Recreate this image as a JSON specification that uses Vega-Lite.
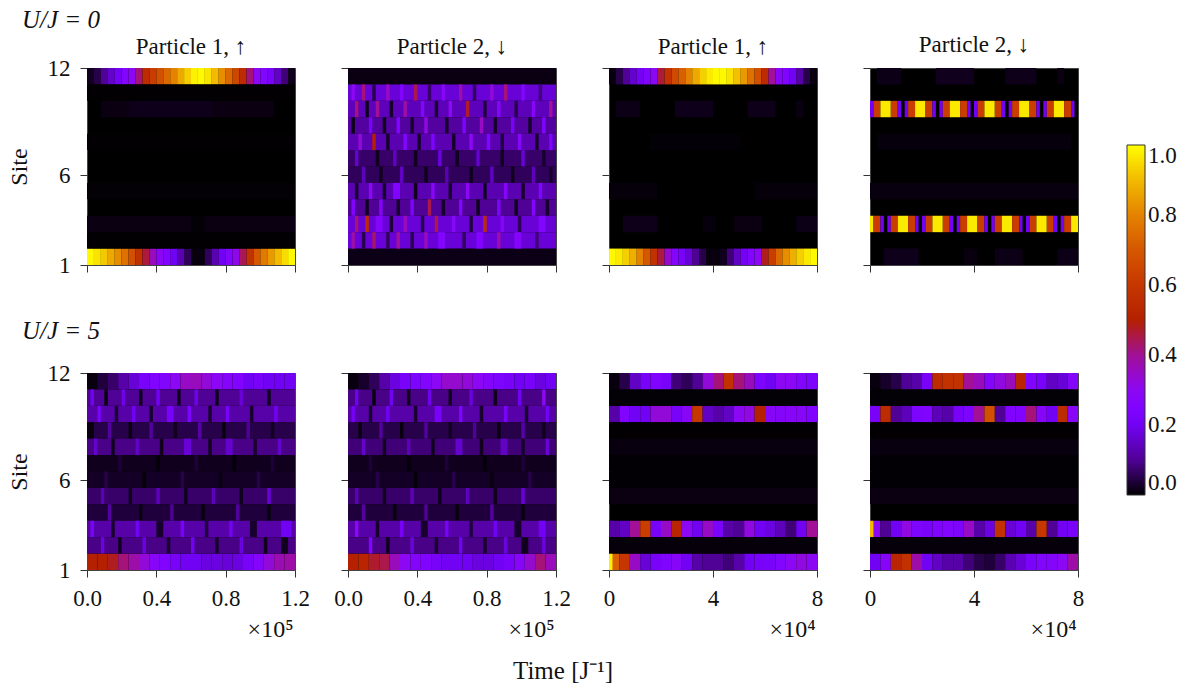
{"$schema":"https://vega.github.io/schema/vega-lite/v6.json","padding":{"left":6,"top":8,"right":0,"bottom":4},"background":"white","title":{"text":"U/J = 0","anchor":"start","frame":"group","fontStyle":"italic","fontSize":25,"offset":0,"dx":-65},"bounds":"flush","data":{"values":[
{"p":1,"i":0,"w":2,"s":12,"v":0.02},{"p":1,"i":2,"w":2,"s":12,"v":0.05},{"p":1,"i":4,"w":2,"s":12,"v":0.1},{"p":1,"i":6,"w":2,"s":12,"v":0.16},{"p":1,"i":8,"w":2,"s":12,"v":0.21},{"p":1,"i":10,"w":2,"s":12,"v":0.26},{"p":1,"i":12,"w":2,"s":12,"v":0.3},{"p":1,"i":14,"w":2,"s":12,"v":0.42},{"p":1,"i":16,"w":2,"s":12,"v":0.55},{"p":1,"i":18,"w":2,"s":12,"v":0.62},{"p":1,"i":20,"w":2,"s":12,"v":0.68},{"p":1,"i":22,"w":2,"s":12,"v":0.74},{"p":1,"i":24,"w":2,"s":12,"v":0.8},{"p":1,"i":26,"w":2,"s":12,"v":0.87},{"p":1,"i":28,"w":2,"s":12,"v":0.93},{"p":1,"i":30,"w":2,"s":12,"v":0.98},{"p":1,"i":32,"w":2,"s":12,"v":0.99},{"p":1,"i":34,"w":2,"s":12,"v":0.96},{"p":1,"i":36,"w":2,"s":12,"v":0.9},{"p":1,"i":38,"w":2,"s":12,"v":0.82},{"p":1,"i":40,"w":2,"s":12,"v":0.74},{"p":1,"i":42,"w":2,"s":12,"v":0.65},{"p":1,"i":44,"w":2,"s":12,"v":0.55},{"p":1,"i":46,"w":2,"s":12,"v":0.42},{"p":1,"i":48,"w":2,"s":12,"v":0.3},{"p":1,"i":50,"w":2,"s":12,"v":0.26},{"p":1,"i":52,"w":2,"s":12,"v":0.22},{"p":1,"i":54,"w":2,"s":12,"v":0.15},{"p":1,"i":56,"w":2,"s":12,"v":0.08},{"p":1,"i":58,"w":2,"s":12,"v":0.02},
{"p":1,"i":0,"w":2,"s":1,"v":0.99},{"p":1,"i":2,"w":2,"s":1,"v":0.96},{"p":1,"i":4,"w":2,"s":1,"v":0.92},{"p":1,"i":6,"w":2,"s":1,"v":0.87},{"p":1,"i":8,"w":2,"s":1,"v":0.82},{"p":1,"i":10,"w":2,"s":1,"v":0.76},{"p":1,"i":12,"w":2,"s":1,"v":0.68},{"p":1,"i":14,"w":2,"s":1,"v":0.58},{"p":1,"i":16,"w":2,"s":1,"v":0.46},{"p":1,"i":18,"w":2,"s":1,"v":0.36},{"p":1,"i":20,"w":2,"s":1,"v":0.29},{"p":1,"i":22,"w":2,"s":1,"v":0.25},{"p":1,"i":24,"w":2,"s":1,"v":0.2},{"p":1,"i":26,"w":2,"s":1,"v":0.13},{"p":1,"i":28,"w":2,"s":1,"v":0.06},{"p":1,"i":30,"w":2,"s":1,"v":0.01},{"p":1,"i":32,"w":2,"s":1,"v":0.01},{"p":1,"i":34,"w":2,"s":1,"v":0.06},{"p":1,"i":36,"w":2,"s":1,"v":0.13},{"p":1,"i":38,"w":2,"s":1,"v":0.2},{"p":1,"i":40,"w":2,"s":1,"v":0.26},{"p":1,"i":42,"w":2,"s":1,"v":0.31},{"p":1,"i":44,"w":2,"s":1,"v":0.44},{"p":1,"i":46,"w":2,"s":1,"v":0.58},{"p":1,"i":48,"w":2,"s":1,"v":0.7},{"p":1,"i":50,"w":2,"s":1,"v":0.78},{"p":1,"i":52,"w":2,"s":1,"v":0.84},{"p":1,"i":54,"w":2,"s":1,"v":0.9},{"p":1,"i":56,"w":2,"s":1,"v":0.95},{"p":1,"i":58,"w":2,"s":1,"v":0.99},
{"p":1,"i":4,"w":50,"s":10,"v":0.012},{"p":1,"i":12,"w":24,"s":10,"v":0.018},{"p":1,"i":0,"w":60,"s":3,"v":0.012},{"p":1,"i":30,"w":4,"s":3,"v":0.004},{"p":1,"i":0,"w":60,"s":11,"v":0.002},{"p":1,"i":0,"w":60,"s":8,"v":0.002},{"p":1,"i":0,"w":60,"s":5,"v":0.004},{"p":1,"i":0,"w":60,"s":2,"v":0.002},
{"p":2,"i":0,"w":60,"s":12,"v":0.012},{"p":2,"i":0,"w":60,"s":1,"v":0.014},
{"p":2,"i":0,"w":60,"s":11,"v":0.17},{"p":2,"i":1,"s":11,"v":0.3},{"p":2,"i":4,"s":11,"v":0.42},{"p":2,"i":7,"s":11,"v":0.05},{"p":2,"i":11,"s":11,"v":0.35},{"p":2,"i":15,"s":11,"v":0.25},{"p":2,"i":19,"s":11,"v":0.45},{"p":2,"i":23,"s":11,"v":0.07},{"p":2,"i":27,"s":11,"v":0.28},{"p":2,"i":32,"s":11,"v":0.38},{"p":2,"i":36,"s":11,"v":0.06},{"p":2,"i":41,"s":11,"v":0.33},{"p":2,"i":45,"s":11,"v":0.42},{"p":2,"i":50,"s":11,"v":0.26},{"p":2,"i":55,"s":11,"v":0.08},
{"p":2,"i":0,"w":60,"s":10,"v":0.14},{"p":2,"i":2,"s":10,"v":0.42},{"p":2,"i":5,"s":10,"v":0.02},{"p":2,"i":8,"s":10,"v":0.4},{"p":2,"i":12,"s":10,"v":0.03},{"p":2,"i":16,"s":10,"v":0.38},{"p":2,"i":21,"s":10,"v":0.26},{"p":2,"i":25,"s":10,"v":0.03},{"p":2,"i":29,"s":10,"v":0.3},{"p":2,"i":34,"s":10,"v":0.47},{"p":2,"i":39,"s":10,"v":0.04},{"p":2,"i":43,"s":10,"v":0.27},{"p":2,"i":48,"s":10,"v":0.05},{"p":2,"i":53,"s":10,"v":0.28},{"p":2,"i":58,"s":10,"v":0.4},
{"p":2,"i":0,"w":60,"s":9,"v":0.11},{"p":2,"i":1,"s":9,"v":0.02},{"p":2,"i":6,"s":9,"v":0.22},{"p":2,"i":10,"s":9,"v":0.02},{"p":2,"i":14,"s":9,"v":0.25},{"p":2,"i":18,"s":9,"v":0.03},{"p":2,"i":22,"s":9,"v":0.32},{"p":2,"i":28,"s":9,"v":0.03},{"p":2,"i":33,"s":9,"v":0.24},{"p":2,"i":38,"s":9,"v":0.35},{"p":2,"i":42,"s":9,"v":0.03},{"p":2,"i":47,"s":9,"v":0.22},{"p":2,"i":52,"s":9,"v":0.03},{"p":2,"i":56,"s":9,"v":0.25},
{"p":2,"i":0,"w":60,"s":8,"v":0.13},{"p":2,"i":3,"s":8,"v":0.33},{"p":2,"i":7,"s":8,"v":0.5},{"p":2,"i":11,"s":8,"v":0.03},{"p":2,"i":16,"s":8,"v":0.26},{"p":2,"i":20,"s":8,"v":0.03},{"p":2,"i":24,"s":8,"v":0.24},{"p":2,"i":30,"s":8,"v":0.03},{"p":2,"i":35,"s":8,"v":0.3},{"p":2,"i":40,"s":8,"v":0.25},{"p":2,"i":44,"s":8,"v":0.04},{"p":2,"i":49,"s":8,"v":0.28},{"p":2,"i":54,"s":8,"v":0.03},{"p":2,"i":58,"s":8,"v":0.24},
{"p":2,"i":0,"w":60,"s":7,"v":0.07},{"p":2,"i":2,"s":7,"v":0.16},{"p":2,"i":8,"s":7,"v":0.02},{"p":2,"i":13,"s":7,"v":0.15},{"p":2,"i":19,"s":7,"v":0.02},{"p":2,"i":26,"s":7,"v":0.18},{"p":2,"i":31,"s":7,"v":0.02},{"p":2,"i":37,"s":7,"v":0.16},{"p":2,"i":44,"s":7,"v":0.02},{"p":2,"i":50,"s":7,"v":0.17},{"p":2,"i":56,"s":7,"v":0.03},
{"p":2,"i":0,"w":60,"s":6,"v":0.06},{"p":2,"i":4,"s":6,"v":0.14},{"p":2,"i":9,"s":6,"v":0.02},{"p":2,"i":15,"s":6,"v":0.15},{"p":2,"i":22,"s":6,"v":0.02},{"p":2,"i":28,"s":6,"v":0.13},{"p":2,"i":35,"s":6,"v":0.02},{"p":2,"i":41,"s":6,"v":0.15},{"p":2,"i":47,"s":6,"v":0.02},{"p":2,"i":53,"s":6,"v":0.14},{"p":2,"i":58,"s":6,"v":0.03},
{"p":2,"i":0,"w":60,"s":5,"v":0.13},{"p":2,"i":2,"s":5,"v":0.03},{"p":2,"i":6,"s":5,"v":0.3},{"p":2,"i":10,"s":5,"v":0.03},{"p":2,"i":13,"w":2,"s":5,"v":0.25},{"p":2,"i":19,"s":5,"v":0.02},{"p":2,"i":24,"s":5,"v":0.28},{"p":2,"i":29,"s":5,"v":0.03},{"p":2,"i":34,"s":5,"v":0.3},{"p":2,"i":39,"s":5,"v":0.02},{"p":2,"i":45,"s":5,"v":0.27},{"p":2,"i":50,"s":5,"v":0.03},{"p":2,"i":55,"s":5,"v":0.25},
{"p":2,"i":0,"w":60,"s":4,"v":0.1},{"p":2,"i":1,"s":4,"v":0.25},{"p":2,"i":5,"s":4,"v":0.02},{"p":2,"i":9,"s":4,"v":0.27},{"p":2,"i":14,"s":4,"v":0.03},{"p":2,"i":18,"s":4,"v":0.24},{"p":2,"i":23,"s":4,"v":0.45},{"p":2,"i":27,"s":4,"v":0.03},{"p":2,"i":32,"s":4,"v":0.26},{"p":2,"i":37,"s":4,"v":0.02},{"p":2,"i":43,"s":4,"v":0.24},{"p":2,"i":48,"s":4,"v":0.02},{"p":2,"i":53,"s":4,"v":0.26},{"p":2,"i":57,"s":4,"v":0.03},
{"p":2,"i":0,"w":60,"s":3,"v":0.17},{"p":2,"i":2,"s":3,"v":0.42},{"p":2,"i":5,"s":3,"v":0.55},{"p":2,"i":8,"w":2,"s":3,"v":0.27},{"p":2,"i":12,"s":3,"v":0.04},{"p":2,"i":16,"s":3,"v":0.36},{"p":2,"i":21,"s":3,"v":0.05},{"p":2,"i":25,"s":3,"v":0.45},{"p":2,"i":30,"s":3,"v":0.28},{"p":2,"i":35,"s":3,"v":0.04},{"p":2,"i":39,"s":3,"v":0.55},{"p":2,"i":44,"s":3,"v":0.27},{"p":2,"i":49,"s":3,"v":0.06},{"p":2,"i":55,"w":2,"s":3,"v":0.26},
{"p":2,"i":0,"w":60,"s":2,"v":0.17},{"p":2,"i":1,"s":2,"v":0.38},{"p":2,"i":4,"s":2,"v":0.05},{"p":2,"i":7,"s":2,"v":0.43},{"p":2,"i":11,"s":2,"v":0.06},{"p":2,"i":14,"s":2,"v":0.4},{"p":2,"i":18,"s":2,"v":0.05},{"p":2,"i":22,"s":2,"v":0.36},{"p":2,"i":26,"w":2,"s":2,"v":0.26},{"p":2,"i":33,"s":2,"v":0.06},{"p":2,"i":37,"w":2,"s":2,"v":0.25},{"p":2,"i":43,"s":2,"v":0.38},{"p":2,"i":48,"w":2,"s":2,"v":0.27},{"p":2,"i":54,"s":2,"v":0.08},
{"p":3,"i":0,"w":2,"s":12,"v":0.01},{"p":3,"i":2,"w":2,"s":12,"v":0.05},{"p":3,"i":4,"w":2,"s":12,"v":0.1},{"p":3,"i":6,"w":2,"s":12,"v":0.16},{"p":3,"i":8,"w":2,"s":12,"v":0.21},{"p":3,"i":10,"w":2,"s":12,"v":0.25},{"p":3,"i":12,"w":2,"s":12,"v":0.3},{"p":3,"i":14,"w":2,"s":12,"v":0.46},{"p":3,"i":16,"w":2,"s":12,"v":0.58},{"p":3,"i":18,"w":2,"s":12,"v":0.66},{"p":3,"i":20,"w":2,"s":12,"v":0.72},{"p":3,"i":22,"w":2,"s":12,"v":0.8},{"p":3,"i":24,"w":2,"s":12,"v":0.87},{"p":3,"i":26,"w":2,"s":12,"v":0.93},{"p":3,"i":28,"w":2,"s":12,"v":0.97},{"p":3,"i":30,"w":2,"s":12,"v":0.99},{"p":3,"i":32,"w":2,"s":12,"v":0.99},{"p":3,"i":34,"w":2,"s":12,"v":0.96},{"p":3,"i":36,"w":2,"s":12,"v":0.91},{"p":3,"i":38,"w":2,"s":12,"v":0.84},{"p":3,"i":40,"w":2,"s":12,"v":0.76},{"p":3,"i":42,"w":2,"s":12,"v":0.68},{"p":3,"i":44,"w":2,"s":12,"v":0.55},{"p":3,"i":46,"w":2,"s":12,"v":0.4},{"p":3,"i":48,"w":2,"s":12,"v":0.28},{"p":3,"i":50,"w":2,"s":12,"v":0.25},{"p":3,"i":52,"w":2,"s":12,"v":0.2},{"p":3,"i":54,"w":2,"s":12,"v":0.12},{"p":3,"i":56,"w":2,"s":12,"v":0.05},{"p":3,"i":58,"w":2,"s":12,"v":0.01},
{"p":3,"i":0,"w":2,"s":1,"v":0.99},{"p":3,"i":2,"w":2,"s":1,"v":0.97},{"p":3,"i":4,"w":2,"s":1,"v":0.93},{"p":3,"i":6,"w":2,"s":1,"v":0.88},{"p":3,"i":8,"w":2,"s":1,"v":0.8},{"p":3,"i":10,"w":2,"s":1,"v":0.7},{"p":3,"i":12,"w":2,"s":1,"v":0.58},{"p":3,"i":14,"w":2,"s":1,"v":0.46},{"p":3,"i":16,"w":2,"s":1,"v":0.34},{"p":3,"i":18,"w":2,"s":1,"v":0.27},{"p":3,"i":20,"w":2,"s":1,"v":0.22},{"p":3,"i":22,"w":2,"s":1,"v":0.17},{"p":3,"i":24,"w":2,"s":1,"v":0.1},{"p":3,"i":26,"w":2,"s":1,"v":0.05},{"p":3,"i":28,"w":2,"s":1,"v":0.01},{"p":3,"i":30,"w":2,"s":1,"v":0.01},{"p":3,"i":32,"w":2,"s":1,"v":0.02},{"p":3,"i":34,"w":2,"s":1,"v":0.08},{"p":3,"i":36,"w":2,"s":1,"v":0.15},{"p":3,"i":38,"w":2,"s":1,"v":0.21},{"p":3,"i":40,"w":2,"s":1,"v":0.26},{"p":3,"i":42,"w":2,"s":1,"v":0.3},{"p":3,"i":44,"w":2,"s":1,"v":0.48},{"p":3,"i":46,"w":2,"s":1,"v":0.62},{"p":3,"i":48,"w":2,"s":1,"v":0.74},{"p":3,"i":50,"w":2,"s":1,"v":0.82},{"p":3,"i":52,"w":2,"s":1,"v":0.88},{"p":3,"i":54,"w":2,"s":1,"v":0.93},{"p":3,"i":56,"w":2,"s":1,"v":0.97},{"p":3,"i":58,"w":2,"s":1,"v":0.99},
{"p":3,"i":2,"w":7,"s":10,"v":0.015},{"p":3,"i":19,"w":11,"s":10,"v":0.018},{"p":3,"i":40,"w":8,"s":10,"v":0.016},{"p":3,"i":54,"w":2,"s":10,"v":0.012},{"p":3,"i":4,"w":10,"s":3,"v":0.016},{"p":3,"i":27,"w":4,"s":3,"v":0.008},{"p":3,"i":36,"w":8,"s":3,"v":0.012},{"p":3,"i":54,"w":6,"s":3,"v":0.014},{"p":3,"i":12,"w":26,"s":8,"v":0.005},{"p":3,"i":0,"w":14,"s":5,"v":0.006},{"p":3,"i":42,"w":18,"s":5,"v":0.006},
{"p":4,"i":0,"s":10,"v":0.2},{"p":4,"i":1,"w":2,"s":10,"v":0.62},{"p":4,"i":3,"w":3,"s":10,"v":0.97},{"p":4,"i":6,"w":2,"s":10,"v":0.62},{"p":4,"i":8,"s":10,"v":0.2},{"p":4,"i":10,"s":10,"v":0.2},{"p":4,"i":11,"w":2,"s":10,"v":0.62},{"p":4,"i":13,"w":3,"s":10,"v":0.97},{"p":4,"i":16,"w":2,"s":10,"v":0.62},{"p":4,"i":18,"s":10,"v":0.2},{"p":4,"i":20,"s":10,"v":0.2},{"p":4,"i":21,"w":2,"s":10,"v":0.62},{"p":4,"i":23,"w":3,"s":10,"v":0.97},{"p":4,"i":26,"w":2,"s":10,"v":0.62},{"p":4,"i":28,"s":10,"v":0.2},{"p":4,"i":30,"s":10,"v":0.2},{"p":4,"i":31,"w":2,"s":10,"v":0.62},{"p":4,"i":33,"w":3,"s":10,"v":0.97},{"p":4,"i":36,"w":2,"s":10,"v":0.62},{"p":4,"i":38,"s":10,"v":0.2},{"p":4,"i":40,"s":10,"v":0.2},{"p":4,"i":41,"w":2,"s":10,"v":0.62},{"p":4,"i":43,"w":3,"s":10,"v":0.97},{"p":4,"i":46,"w":2,"s":10,"v":0.62},{"p":4,"i":48,"s":10,"v":0.2},{"p":4,"i":50,"s":10,"v":0.2},{"p":4,"i":51,"w":2,"s":10,"v":0.62},{"p":4,"i":53,"w":3,"s":10,"v":0.97},{"p":4,"i":56,"w":2,"s":10,"v":0.62},{"p":4,"i":58,"s":10,"v":0.2},
{"p":4,"i":0,"s":3,"v":0.97},{"p":4,"i":1,"w":2,"s":3,"v":0.62},{"p":4,"i":3,"s":3,"v":0.2},{"p":4,"i":5,"s":3,"v":0.2},{"p":4,"i":6,"w":2,"s":3,"v":0.62},{"p":4,"i":8,"w":3,"s":3,"v":0.97},{"p":4,"i":11,"w":2,"s":3,"v":0.62},{"p":4,"i":13,"s":3,"v":0.2},{"p":4,"i":15,"s":3,"v":0.2},{"p":4,"i":16,"w":2,"s":3,"v":0.62},{"p":4,"i":18,"w":3,"s":3,"v":0.97},{"p":4,"i":21,"w":2,"s":3,"v":0.62},{"p":4,"i":23,"s":3,"v":0.2},{"p":4,"i":25,"s":3,"v":0.2},{"p":4,"i":26,"w":2,"s":3,"v":0.62},{"p":4,"i":28,"w":3,"s":3,"v":0.97},{"p":4,"i":31,"w":2,"s":3,"v":0.62},{"p":4,"i":33,"s":3,"v":0.2},{"p":4,"i":35,"s":3,"v":0.2},{"p":4,"i":36,"w":2,"s":3,"v":0.62},{"p":4,"i":38,"w":3,"s":3,"v":0.97},{"p":4,"i":41,"w":2,"s":3,"v":0.62},{"p":4,"i":43,"s":3,"v":0.2},{"p":4,"i":45,"s":3,"v":0.2},{"p":4,"i":46,"w":2,"s":3,"v":0.62},{"p":4,"i":48,"w":3,"s":3,"v":0.97},{"p":4,"i":51,"w":2,"s":3,"v":0.62},{"p":4,"i":53,"s":3,"v":0.2},{"p":4,"i":55,"s":3,"v":0.2},{"p":4,"i":56,"w":2,"s":3,"v":0.62},{"p":4,"i":58,"w":2,"s":3,"v":0.97},
{"p":4,"i":2,"w":7,"s":12,"v":0.015},{"p":4,"i":19,"w":11,"s":12,"v":0.02},{"p":4,"i":39,"w":9,"s":12,"v":0.016},{"p":4,"i":54,"w":2,"s":12,"v":0.012},{"p":4,"i":4,"w":10,"s":1,"v":0.018},{"p":4,"i":27,"w":4,"s":1,"v":0.01},{"p":4,"i":36,"w":8,"s":1,"v":0.014},{"p":4,"i":54,"w":6,"s":1,"v":0.014},{"p":4,"i":2,"w":56,"s":8,"v":0.008},{"p":4,"i":0,"w":60,"s":5,"v":0.01},
{"p":5,"i":0,"w":3,"s":12,"v":0.01},{"p":5,"i":3,"w":3,"s":12,"v":0.04},{"p":5,"i":6,"w":3,"s":12,"v":0.07},{"p":5,"i":9,"w":3,"s":12,"v":0.12},{"p":5,"i":12,"w":3,"s":12,"v":0.17},{"p":5,"i":15,"w":3,"s":12,"v":0.22},{"p":5,"i":18,"w":3,"s":12,"v":0.25},{"p":5,"i":21,"w":3,"s":12,"v":0.26},{"p":5,"i":24,"w":3,"s":12,"v":0.3},{"p":5,"i":27,"w":3,"s":12,"v":0.35},{"p":5,"i":30,"w":3,"s":12,"v":0.36},{"p":5,"i":33,"w":3,"s":12,"v":0.33},{"p":5,"i":36,"w":3,"s":12,"v":0.3},{"p":5,"i":39,"w":3,"s":12,"v":0.27},{"p":5,"i":42,"w":3,"s":12,"v":0.25},{"p":5,"i":45,"w":3,"s":12,"v":0.2},{"p":5,"i":48,"w":3,"s":12,"v":0.22},{"p":5,"i":51,"w":3,"s":12,"v":0.2},{"p":5,"i":54,"w":3,"s":12,"v":0.2},{"p":5,"i":57,"w":3,"s":12,"v":0.2},
{"p":5,"i":0,"w":3,"s":1,"v":0.5},{"p":5,"i":3,"w":3,"s":1,"v":0.5},{"p":5,"i":6,"w":3,"s":1,"v":0.48},{"p":5,"i":9,"w":3,"s":1,"v":0.42},{"p":5,"i":12,"w":3,"s":1,"v":0.38},{"p":5,"i":15,"w":3,"s":1,"v":0.33},{"p":5,"i":18,"w":3,"s":1,"v":0.28},{"p":5,"i":21,"w":3,"s":1,"v":0.25},{"p":5,"i":24,"w":3,"s":1,"v":0.22},{"p":5,"i":27,"w":3,"s":1,"v":0.2},{"p":5,"i":30,"w":3,"s":1,"v":0.2},{"p":5,"i":33,"w":3,"s":1,"v":0.18},{"p":5,"i":36,"w":3,"s":1,"v":0.18},{"p":5,"i":39,"w":3,"s":1,"v":0.17},{"p":5,"i":42,"w":3,"s":1,"v":0.18},{"p":5,"i":45,"w":3,"s":1,"v":0.22},{"p":5,"i":48,"w":3,"s":1,"v":0.27},{"p":5,"i":51,"w":3,"s":1,"v":0.33},{"p":5,"i":54,"w":3,"s":1,"v":0.37},{"p":5,"i":57,"w":3,"s":1,"v":0.38},
{"p":5,"i":0,"w":60,"s":11,"v":0.1},{"p":5,"i":1,"s":11,"v":0.2},{"p":5,"i":5,"s":11,"v":0.01},{"p":5,"i":10,"s":11,"v":0.19},{"p":5,"i":15,"s":11,"v":0.02},{"p":5,"i":20,"s":11,"v":0.2},{"p":5,"i":26,"s":11,"v":0.02},{"p":5,"i":31,"s":11,"v":0.19},{"p":5,"i":37,"s":11,"v":0.02},{"p":5,"i":44,"s":11,"v":0.17},{"p":5,"i":52,"s":11,"v":0.02},
{"p":5,"i":0,"w":60,"s":10,"v":0.12},{"p":5,"i":3,"s":10,"v":0.22},{"p":5,"i":8,"s":10,"v":0.03},{"p":5,"i":13,"s":10,"v":0.2},{"p":5,"i":18,"s":10,"v":0.03},{"p":5,"i":23,"w":2,"s":10,"v":0.22},{"p":5,"i":29,"s":10,"v":0.24},{"p":5,"i":35,"s":10,"v":0.03},{"p":5,"i":40,"s":10,"v":0.22},{"p":5,"i":47,"s":10,"v":0.03},{"p":5,"i":54,"s":10,"v":0.2},
{"p":5,"i":0,"w":60,"s":9,"v":0.05},{"p":5,"i":0,"w":2,"s":9,"v":0.01},{"p":5,"i":6,"s":9,"v":0.11},{"p":5,"i":12,"s":9,"v":0.01},{"p":5,"i":18,"s":9,"v":0.11},{"p":5,"i":25,"s":9,"v":0.02},{"p":5,"i":32,"s":9,"v":0.12},{"p":5,"i":39,"s":9,"v":0.01},{"p":5,"i":46,"s":9,"v":0.1},{"p":5,"i":53,"s":9,"v":0.02},
{"p":5,"i":0,"w":60,"s":8,"v":0.09},{"p":5,"i":2,"s":8,"v":0.16},{"p":5,"i":7,"s":8,"v":0.02},{"p":5,"i":14,"s":8,"v":0.15},{"p":5,"i":21,"s":8,"v":0.02},{"p":5,"i":28,"w":2,"s":8,"v":0.17},{"p":5,"i":35,"s":8,"v":0.02},{"p":5,"i":40,"w":2,"s":8,"v":0.16},{"p":5,"i":48,"s":8,"v":0.03},{"p":5,"i":55,"s":8,"v":0.16},
{"p":5,"i":0,"w":60,"s":7,"v":0.02},{"p":5,"i":9,"s":7,"v":0.04},{"p":5,"i":20,"s":7,"v":0.005},{"p":5,"i":31,"s":7,"v":0.04},{"p":5,"i":42,"s":7,"v":0.005},{"p":5,"i":53,"s":7,"v":0.04},
{"p":5,"i":0,"w":60,"s":6,"v":0.025},{"p":5,"i":5,"s":6,"v":0.05},{"p":5,"i":16,"s":6,"v":0.005},{"p":5,"i":27,"s":6,"v":0.05},{"p":5,"i":38,"s":6,"v":0.01},{"p":5,"i":49,"s":6,"v":0.05},
{"p":5,"i":0,"w":60,"s":5,"v":0.07},{"p":5,"i":4,"s":5,"v":0.13},{"p":5,"i":12,"s":5,"v":0.02},{"p":5,"i":20,"s":5,"v":0.14},{"p":5,"i":28,"s":5,"v":0.02},{"p":5,"i":36,"s":5,"v":0.14},{"p":5,"i":44,"s":5,"v":0.02},{"p":5,"i":52,"s":5,"v":0.17},
{"p":5,"i":0,"w":60,"s":4,"v":0.04},{"p":5,"i":6,"s":4,"v":0.11},{"p":5,"i":15,"s":4,"v":0.01},{"p":5,"i":24,"s":4,"v":0.1},{"p":5,"i":33,"s":4,"v":0.01},{"p":5,"i":43,"s":4,"v":0.11},{"p":5,"i":52,"s":4,"v":0.01},
{"p":5,"i":0,"w":60,"s":3,"v":0.12},{"p":5,"i":1,"s":3,"v":0.23},{"p":5,"i":7,"s":3,"v":0.03},{"p":5,"i":14,"s":3,"v":0.2},{"p":5,"i":20,"w":2,"s":3,"v":0.03},{"p":5,"i":27,"s":3,"v":0.22},{"p":5,"i":34,"s":3,"v":0.04},{"p":5,"i":41,"s":3,"v":0.2},{"p":5,"i":47,"w":2,"s":3,"v":0.03},{"p":5,"i":56,"w":3,"s":3,"v":0.2},
{"p":5,"i":0,"w":60,"s":2,"v":0.09},{"p":5,"i":4,"s":2,"v":0.18},{"p":5,"i":9,"s":2,"v":0.02},{"p":5,"i":16,"s":2,"v":0.18},{"p":5,"i":23,"s":2,"v":0.03},{"p":5,"i":30,"s":2,"v":0.2},{"p":5,"i":37,"s":2,"v":0.03},{"p":5,"i":44,"s":2,"v":0.18},{"p":5,"i":51,"s":2,"v":0.02},{"p":5,"i":56,"w":2,"s":2,"v":0.02},
{"p":6,"i":0,"w":3,"s":12,"v":0.01},{"p":6,"i":3,"w":3,"s":12,"v":0.03},{"p":6,"i":6,"w":3,"s":12,"v":0.06},{"p":6,"i":9,"w":3,"s":12,"v":0.12},{"p":6,"i":12,"w":3,"s":12,"v":0.18},{"p":6,"i":15,"w":3,"s":12,"v":0.22},{"p":6,"i":18,"w":3,"s":12,"v":0.24},{"p":6,"i":21,"w":3,"s":12,"v":0.26},{"p":6,"i":24,"w":3,"s":12,"v":0.3},{"p":6,"i":27,"w":3,"s":12,"v":0.34},{"p":6,"i":30,"w":3,"s":12,"v":0.34},{"p":6,"i":33,"w":3,"s":12,"v":0.33},{"p":6,"i":36,"w":3,"s":12,"v":0.3},{"p":6,"i":39,"w":3,"s":12,"v":0.27},{"p":6,"i":42,"w":3,"s":12,"v":0.24},{"p":6,"i":45,"w":3,"s":12,"v":0.22},{"p":6,"i":48,"w":3,"s":12,"v":0.2},{"p":6,"i":51,"w":3,"s":12,"v":0.22},{"p":6,"i":54,"w":3,"s":12,"v":0.18},{"p":6,"i":57,"w":3,"s":12,"v":0.2},
{"p":6,"i":0,"w":3,"s":1,"v":0.5},{"p":6,"i":3,"w":3,"s":1,"v":0.52},{"p":6,"i":6,"w":3,"s":1,"v":0.47},{"p":6,"i":9,"w":3,"s":1,"v":0.45},{"p":6,"i":12,"w":3,"s":1,"v":0.36},{"p":6,"i":15,"w":3,"s":1,"v":0.3},{"p":6,"i":18,"w":3,"s":1,"v":0.27},{"p":6,"i":21,"w":3,"s":1,"v":0.25},{"p":6,"i":24,"w":3,"s":1,"v":0.22},{"p":6,"i":27,"w":3,"s":1,"v":0.2},{"p":6,"i":30,"w":3,"s":1,"v":0.2},{"p":6,"i":33,"w":3,"s":1,"v":0.2},{"p":6,"i":36,"w":3,"s":1,"v":0.18},{"p":6,"i":39,"w":3,"s":1,"v":0.18},{"p":6,"i":42,"w":3,"s":1,"v":0.2},{"p":6,"i":45,"w":3,"s":1,"v":0.22},{"p":6,"i":48,"w":3,"s":1,"v":0.28},{"p":6,"i":51,"w":3,"s":1,"v":0.34},{"p":6,"i":54,"w":3,"s":1,"v":0.42},{"p":6,"i":57,"w":3,"s":1,"v":0.36},
{"p":6,"i":0,"w":60,"s":11,"v":0.09},{"p":6,"i":2,"s":11,"v":0.19},{"p":6,"i":7,"s":11,"v":0.01},{"p":6,"i":12,"s":11,"v":0.2},{"p":6,"i":17,"s":11,"v":0.02},{"p":6,"i":23,"s":11,"v":0.19},{"p":6,"i":29,"s":11,"v":0.02},{"p":6,"i":35,"s":11,"v":0.18},{"p":6,"i":42,"s":11,"v":0.02},{"p":6,"i":49,"s":11,"v":0.2},{"p":6,"i":56,"s":11,"v":0.3},
{"p":6,"i":0,"w":60,"s":10,"v":0.12},{"p":6,"i":1,"s":10,"v":0.21},{"p":6,"i":6,"s":10,"v":0.03},{"p":6,"i":11,"s":10,"v":0.2},{"p":6,"i":19,"s":10,"v":0.03},{"p":6,"i":25,"w":2,"s":10,"v":0.22},{"p":6,"i":32,"s":10,"v":0.24},{"p":6,"i":38,"s":10,"v":0.03},{"p":6,"i":45,"s":10,"v":0.22},{"p":6,"i":51,"s":10,"v":0.03},{"p":6,"i":57,"s":10,"v":0.2},
{"p":6,"i":0,"w":60,"s":9,"v":0.05},{"p":6,"i":3,"s":9,"v":0.01},{"p":6,"i":9,"s":9,"v":0.11},{"p":6,"i":15,"s":9,"v":0.01},{"p":6,"i":22,"s":9,"v":0.11},{"p":6,"i":29,"s":9,"v":0.02},{"p":6,"i":36,"s":9,"v":0.1},{"p":6,"i":43,"s":9,"v":0.01},{"p":6,"i":50,"s":9,"v":0.12},{"p":6,"i":56,"s":9,"v":0.02},
{"p":6,"i":0,"w":60,"s":8,"v":0.08},{"p":6,"i":4,"s":8,"v":0.16},{"p":6,"i":10,"s":8,"v":0.02},{"p":6,"i":17,"s":8,"v":0.14},{"p":6,"i":24,"s":8,"v":0.02},{"p":6,"i":31,"w":2,"s":8,"v":0.16},{"p":6,"i":38,"s":8,"v":0.02},{"p":6,"i":44,"w":2,"s":8,"v":0.15},{"p":6,"i":50,"s":8,"v":0.03},{"p":6,"i":57,"s":8,"v":0.17},
{"p":6,"i":0,"w":60,"s":7,"v":0.02},{"p":6,"i":6,"s":7,"v":0.04},{"p":6,"i":17,"s":7,"v":0.005},{"p":6,"i":28,"s":7,"v":0.04},{"p":6,"i":39,"s":7,"v":0.005},{"p":6,"i":50,"s":7,"v":0.04},
{"p":6,"i":0,"w":60,"s":6,"v":0.025},{"p":6,"i":8,"s":6,"v":0.05},{"p":6,"i":19,"s":6,"v":0.005},{"p":6,"i":30,"s":6,"v":0.05},{"p":6,"i":41,"s":6,"v":0.01},{"p":6,"i":52,"s":6,"v":0.05},
{"p":6,"i":0,"w":60,"s":5,"v":0.07},{"p":6,"i":2,"s":5,"v":0.13},{"p":6,"i":10,"s":5,"v":0.02},{"p":6,"i":18,"s":5,"v":0.14},{"p":6,"i":26,"s":5,"v":0.02},{"p":6,"i":34,"s":5,"v":0.14},{"p":6,"i":42,"s":5,"v":0.02},{"p":6,"i":50,"s":5,"v":0.17},
{"p":6,"i":0,"w":60,"s":4,"v":0.04},{"p":6,"i":4,"s":4,"v":0.11},{"p":6,"i":13,"s":4,"v":0.01},{"p":6,"i":22,"s":4,"v":0.1},{"p":6,"i":31,"s":4,"v":0.01},{"p":6,"i":41,"s":4,"v":0.11},{"p":6,"i":50,"s":4,"v":0.01},
{"p":6,"i":0,"w":60,"s":3,"v":0.12},{"p":6,"i":2,"s":3,"v":0.3},{"p":6,"i":8,"s":3,"v":0.03},{"p":6,"i":15,"s":3,"v":0.22},{"p":6,"i":21,"w":2,"s":3,"v":0.03},{"p":6,"i":28,"s":3,"v":0.22},{"p":6,"i":35,"s":3,"v":0.04},{"p":6,"i":42,"s":3,"v":0.2},{"p":6,"i":48,"w":2,"s":3,"v":0.03},{"p":6,"i":55,"w":2,"s":3,"v":0.2},
{"p":6,"i":0,"w":60,"s":2,"v":0.09},{"p":6,"i":6,"s":2,"v":0.25},{"p":6,"i":11,"s":2,"v":0.02},{"p":6,"i":18,"s":2,"v":0.18},{"p":6,"i":25,"s":2,"v":0.03},{"p":6,"i":32,"s":2,"v":0.2},{"p":6,"i":39,"s":2,"v":0.03},{"p":6,"i":45,"s":2,"v":0.18},{"p":6,"i":50,"w":2,"s":2,"v":0.02},{"p":6,"i":56,"s":2,"v":0.18},
{"p":7,"i":0,"w":3,"s":12,"v":0.01},{"p":7,"i":3,"w":3,"s":12,"v":0.05},{"p":7,"i":6,"w":3,"s":12,"v":0.15},{"p":7,"i":9,"w":3,"s":12,"v":0.22},{"p":7,"i":12,"w":3,"s":12,"v":0.25},{"p":7,"i":15,"w":3,"s":12,"v":0.22},{"p":7,"i":18,"w":3,"s":12,"v":0.08},{"p":7,"i":21,"w":3,"s":12,"v":0.06},{"p":7,"i":24,"w":3,"s":12,"v":0.1},{"p":7,"i":27,"w":3,"s":12,"v":0.33},{"p":7,"i":30,"w":3,"s":12,"v":0.42},{"p":7,"i":33,"w":3,"s":12,"v":0.58},{"p":7,"i":36,"w":3,"s":12,"v":0.42},{"p":7,"i":39,"w":3,"s":12,"v":0.36},{"p":7,"i":42,"w":3,"s":12,"v":0.24},{"p":7,"i":45,"w":3,"s":12,"v":0.2},{"p":7,"i":48,"w":3,"s":12,"v":0.3},{"p":7,"i":51,"w":3,"s":12,"v":0.3},{"p":7,"i":54,"w":3,"s":12,"v":0.26},{"p":7,"i":57,"w":3,"s":12,"v":0.24},
{"p":7,"i":0,"w":3,"s":10,"v":0.12},{"p":7,"i":3,"w":3,"s":10,"v":0.25},{"p":7,"i":6,"w":3,"s":10,"v":0.2},{"p":7,"i":9,"w":3,"s":10,"v":0.2},{"p":7,"i":12,"w":3,"s":10,"v":0.33},{"p":7,"i":15,"w":3,"s":10,"v":0.33},{"p":7,"i":18,"w":3,"s":10,"v":0.22},{"p":7,"i":21,"w":3,"s":10,"v":0.28},{"p":7,"i":24,"w":3,"s":10,"v":0.6},{"p":7,"i":27,"w":3,"s":10,"v":0.15},{"p":7,"i":30,"w":3,"s":10,"v":0.12},{"p":7,"i":33,"w":3,"s":10,"v":0.15},{"p":7,"i":36,"w":3,"s":10,"v":0.3},{"p":7,"i":39,"w":3,"s":10,"v":0.32},{"p":7,"i":42,"w":3,"s":10,"v":0.5},{"p":7,"i":45,"w":3,"s":10,"v":0.28},{"p":7,"i":48,"w":3,"s":10,"v":0.27},{"p":7,"i":51,"w":3,"s":10,"v":0.28},{"p":7,"i":54,"w":3,"s":10,"v":0.28},{"p":7,"i":57,"w":3,"s":10,"v":0.25},
{"p":7,"i":0,"w":3,"s":3,"v":0.12},{"p":7,"i":3,"w":3,"s":3,"v":0.15},{"p":7,"i":6,"w":3,"s":3,"v":0.4},{"p":7,"i":9,"w":3,"s":3,"v":0.62},{"p":7,"i":12,"w":3,"s":3,"v":0.22},{"p":7,"i":15,"w":3,"s":3,"v":0.35},{"p":7,"i":18,"w":3,"s":3,"v":0.52},{"p":7,"i":21,"w":3,"s":3,"v":0.3},{"p":7,"i":24,"w":3,"s":3,"v":0.2},{"p":7,"i":27,"w":3,"s":3,"v":0.35},{"p":7,"i":30,"w":3,"s":3,"v":0.23},{"p":7,"i":33,"w":3,"s":3,"v":0.12},{"p":7,"i":36,"w":3,"s":3,"v":0.1},{"p":7,"i":39,"w":3,"s":3,"v":0.32},{"p":7,"i":42,"w":3,"s":3,"v":0.2},{"p":7,"i":45,"w":3,"s":3,"v":0.18},{"p":7,"i":48,"w":3,"s":3,"v":0.14},{"p":7,"i":51,"w":3,"s":3,"v":0.08},{"p":7,"i":54,"w":3,"s":3,"v":0.2},{"p":7,"i":57,"w":3,"s":3,"v":0.4},
{"p":7,"i":0,"w":3,"s":1,"v":0.72},{"p":7,"i":0,"s":1,"v":0.98},{"p":7,"i":3,"w":3,"s":1,"v":0.6},{"p":7,"i":6,"w":3,"s":1,"v":0.35},{"p":7,"i":9,"w":3,"s":1,"v":0.17},{"p":7,"i":12,"w":3,"s":1,"v":0.22},{"p":7,"i":15,"w":3,"s":1,"v":0.25},{"p":7,"i":18,"w":3,"s":1,"v":0.28},{"p":7,"i":21,"w":3,"s":1,"v":0.2},{"p":7,"i":24,"w":3,"s":1,"v":0.12},{"p":7,"i":27,"w":3,"s":1,"v":0.1},{"p":7,"i":30,"w":3,"s":1,"v":0.1},{"p":7,"i":33,"w":3,"s":1,"v":0.08},{"p":7,"i":36,"w":3,"s":1,"v":0.12},{"p":7,"i":39,"w":3,"s":1,"v":0.2},{"p":7,"i":42,"w":3,"s":1,"v":0.22},{"p":7,"i":45,"w":3,"s":1,"v":0.23},{"p":7,"i":48,"w":3,"s":1,"v":0.26},{"p":7,"i":51,"w":3,"s":1,"v":0.3},{"p":7,"i":54,"w":3,"s":1,"v":0.32},{"p":7,"i":57,"w":3,"s":1,"v":0.3},
{"p":7,"i":0,"w":60,"s":11,"v":0.004},{"p":7,"i":0,"w":60,"s":9,"v":0.002},{"p":7,"i":0,"w":60,"s":8,"v":0.01},{"p":7,"i":0,"w":60,"s":7,"v":0.003},{"p":7,"i":0,"w":60,"s":6,"v":0.003},{"p":7,"i":0,"w":60,"s":5,"v":0.012},{"p":7,"i":0,"w":60,"s":2,"v":0.006},
{"p":8,"i":0,"w":3,"s":12,"v":0.01},{"p":8,"i":3,"w":3,"s":12,"v":0.03},{"p":8,"i":6,"w":3,"s":12,"v":0.05},{"p":8,"i":9,"w":3,"s":12,"v":0.1},{"p":8,"i":12,"w":3,"s":12,"v":0.12},{"p":8,"i":15,"w":3,"s":12,"v":0.22},{"p":8,"i":18,"w":3,"s":12,"v":0.55},{"p":8,"i":21,"w":3,"s":12,"v":0.58},{"p":8,"i":24,"w":3,"s":12,"v":0.58},{"p":8,"i":27,"w":3,"s":12,"v":0.4},{"p":8,"i":30,"w":3,"s":12,"v":0.36},{"p":8,"i":33,"w":3,"s":12,"v":0.27},{"p":8,"i":36,"w":3,"s":12,"v":0.32},{"p":8,"i":39,"w":3,"s":12,"v":0.36},{"p":8,"i":42,"w":3,"s":12,"v":0.52},{"p":8,"i":45,"w":3,"s":12,"v":0.25},{"p":8,"i":48,"w":3,"s":12,"v":0.22},{"p":8,"i":51,"w":3,"s":12,"v":0.15},{"p":8,"i":54,"w":3,"s":12,"v":0.17},{"p":8,"i":57,"w":3,"s":12,"v":0.27},
{"p":8,"i":0,"w":3,"s":10,"v":0.22},{"p":8,"i":3,"w":3,"s":10,"v":0.55},{"p":8,"i":6,"w":3,"s":10,"v":0.1},{"p":8,"i":9,"w":3,"s":10,"v":0.14},{"p":8,"i":12,"w":3,"s":10,"v":0.24},{"p":8,"i":15,"w":3,"s":10,"v":0.25},{"p":8,"i":18,"w":3,"s":10,"v":0.14},{"p":8,"i":21,"w":3,"s":10,"v":0.12},{"p":8,"i":24,"w":3,"s":10,"v":0.22},{"p":8,"i":27,"w":3,"s":10,"v":0.24},{"p":8,"i":30,"w":3,"s":10,"v":0.4},{"p":8,"i":33,"w":3,"s":10,"v":0.68},{"p":8,"i":36,"w":3,"s":10,"v":0.1},{"p":8,"i":39,"w":3,"s":10,"v":0.25},{"p":8,"i":42,"w":3,"s":10,"v":0.25},{"p":8,"i":45,"w":3,"s":10,"v":0.42},{"p":8,"i":48,"w":3,"s":10,"v":0.28},{"p":8,"i":51,"w":3,"s":10,"v":0.2},{"p":8,"i":54,"w":3,"s":10,"v":0.55},{"p":8,"i":57,"w":3,"s":10,"v":0.28},
{"p":8,"i":0,"w":3,"s":3,"v":0.3},{"p":8,"i":0,"s":3,"v":0.9},{"p":8,"i":3,"w":3,"s":3,"v":0.1},{"p":8,"i":6,"w":3,"s":3,"v":0.2},{"p":8,"i":9,"w":3,"s":3,"v":0.32},{"p":8,"i":12,"w":3,"s":3,"v":0.24},{"p":8,"i":15,"w":3,"s":3,"v":0.22},{"p":8,"i":18,"w":3,"s":3,"v":0.25},{"p":8,"i":21,"w":3,"s":3,"v":0.26},{"p":8,"i":24,"w":3,"s":3,"v":0.24},{"p":8,"i":27,"w":3,"s":3,"v":0.35},{"p":8,"i":30,"w":3,"s":3,"v":0.12},{"p":8,"i":33,"w":3,"s":3,"v":0.18},{"p":8,"i":36,"w":3,"s":3,"v":0.58},{"p":8,"i":39,"w":3,"s":3,"v":0.17},{"p":8,"i":42,"w":3,"s":3,"v":0.2},{"p":8,"i":45,"w":3,"s":3,"v":0.12},{"p":8,"i":48,"w":3,"s":3,"v":0.6},{"p":8,"i":51,"w":3,"s":3,"v":0.1},{"p":8,"i":54,"w":3,"s":3,"v":0.2},{"p":8,"i":57,"w":3,"s":3,"v":0.22},
{"p":8,"i":0,"w":3,"s":1,"v":0.2},{"p":8,"i":3,"w":3,"s":1,"v":0.27},{"p":8,"i":6,"w":3,"s":1,"v":0.52},{"p":8,"i":9,"w":3,"s":1,"v":0.58},{"p":8,"i":12,"w":3,"s":1,"v":0.38},{"p":8,"i":15,"w":3,"s":1,"v":0.2},{"p":8,"i":18,"w":3,"s":1,"v":0.15},{"p":8,"i":21,"w":3,"s":1,"v":0.12},{"p":8,"i":24,"w":3,"s":1,"v":0.12},{"p":8,"i":27,"w":3,"s":1,"v":0.08},{"p":8,"i":30,"w":3,"s":1,"v":0.05},{"p":8,"i":33,"w":3,"s":1,"v":0.04},{"p":8,"i":36,"w":3,"s":1,"v":0.07},{"p":8,"i":39,"w":3,"s":1,"v":0.13},{"p":8,"i":42,"w":3,"s":1,"v":0.17},{"p":8,"i":45,"w":3,"s":1,"v":0.23},{"p":8,"i":48,"w":3,"s":1,"v":0.26},{"p":8,"i":51,"w":3,"s":1,"v":0.27},{"p":8,"i":54,"w":3,"s":1,"v":0.3},{"p":8,"i":57,"w":3,"s":1,"v":0.38},
{"p":8,"i":0,"w":60,"s":11,"v":0.004},{"p":8,"i":0,"w":60,"s":9,"v":0.002},{"p":8,"i":0,"w":60,"s":8,"v":0.01},{"p":8,"i":0,"w":60,"s":7,"v":0.003},{"p":8,"i":0,"w":60,"s":6,"v":0.003},{"p":8,"i":0,"w":60,"s":5,"v":0.012},{"p":8,"i":0,"w":60,"s":2,"v":0.006}
]},"transform":[{"calculate":"datum.p==3||datum.p==4||datum.p==7||datum.p==8?8:1.2","as":"r"},{"calculate":"datum.i*datum.r/60","as":"a"},{"calculate":"(datum.i+(datum.w||1))*datum.r/60","as":"b"},{"calculate":"1+(datum.s-1)*11/12","as":"c"},{"calculate":"1+datum.s*11/12","as":"d"}],"vconcat":[{"title":{"text":"Time [J⁻¹]","orient":"bottom","anchor":"middle","fontSize":25,"offset":17,"dx":-29},"bounds":"flush","columns":4,"spacing":{"row":108,"column":53},"resolve":{"scale":{"color":"independent"},"legend":{"color":"independent"}},"concat":[
{"width":208,"height":197,"title":{"text":"Particle 1, ↑","offset":-2},"transform":[{"filter":"datum.p==1"}],"mark":{"type":"rect"},"encoding":{"x":{"field":"a","type":"quantitative","scale":{"domain":[0,1.2],"nice":false},"axis":{"values":[0,0.4,0.8,1.2],"labels":false,"title":null}},"x2":{"field":"b"},"y":{"field":"c","type":"quantitative","scale":{"domain":[1,12],"nice":false},"axis":{"values":[1,6,12],"title":"Site"}},"y2":{"field":"d"},"color":{"field":"v","type":"quantitative","scale":{"interpolate":"rgb","domain":[0,0.1,0.2,0.25,0.3,0.4,0.5,0.6,0.7,0.8,0.9,1],"range":["#000000","#500196","#7202f3","#8004ff","#8c07f3","#a11096","#b42000","#c63700","#d55700","#e48300","#f2ba00","#ffff00"]},"legend":{"orient":"none","legendX":1040,"legendY":77,"title":null,"gradientLength":350,"gradientThickness":18,"values":[0,0.2,0.4,0.6,0.8,1],"format":".1f","labelFont":"Liberation Serif","labelFontSize":23,"labelColor":"#111","labelOffset":3,"gradientStrokeColor":"#333","gradientStrokeWidth":1}}}},
{"width":208,"height":197,"title":{"text":"Particle 2, ↓","offset":9},"transform":[{"filter":"datum.p==2"}],"mark":{"type":"rect"},"encoding":{"x":{"field":"a","type":"quantitative","scale":{"domain":[0,1.2],"nice":false},"axis":{"values":[0,0.4,0.8,1.2],"labels":false,"title":null}},"x2":{"field":"b"},"y":{"field":"c","type":"quantitative","scale":{"domain":[1,12],"nice":false},"axis":{"values":[1,6,12],"labels":false,"title":null}},"y2":{"field":"d"},"color":{"field":"v","type":"quantitative","scale":{"interpolate":"rgb","domain":[0,0.1,0.2,0.25,0.3,0.4,0.5,0.6,0.7,0.8,0.9,1],"range":["#000000","#500196","#7202f3","#8004ff","#8c07f3","#a11096","#b42000","#c63700","#d55700","#e48300","#f2ba00","#ffff00"]},"legend":null}}},
{"width":208,"height":197,"title":{"text":"Particle 1, ↑","offset":9},"transform":[{"filter":"datum.p==3"}],"mark":{"type":"rect"},"encoding":{"x":{"field":"a","type":"quantitative","scale":{"domain":[0,8],"nice":false},"axis":{"values":[0,4,8],"labels":false,"title":null}},"x2":{"field":"b"},"y":{"field":"c","type":"quantitative","scale":{"domain":[1,12],"nice":false},"axis":{"values":[1,6,12],"labels":false,"title":null}},"y2":{"field":"d"},"color":{"field":"v","type":"quantitative","scale":{"interpolate":"rgb","domain":[0,0.1,0.2,0.25,0.3,0.4,0.5,0.6,0.7,0.8,0.9,1],"range":["#000000","#500196","#7202f3","#8004ff","#8c07f3","#a11096","#b42000","#c63700","#d55700","#e48300","#f2ba00","#ffff00"]},"legend":null}}},
{"width":208,"height":197,"title":{"text":"Particle 2, ↓","offset":11},"transform":[{"filter":"datum.p==4"}],"mark":{"type":"rect"},"encoding":{"x":{"field":"a","type":"quantitative","scale":{"domain":[0,8],"nice":false},"axis":{"values":[0,4,8],"labels":false,"title":null}},"x2":{"field":"b"},"y":{"field":"c","type":"quantitative","scale":{"domain":[1,12],"nice":false},"axis":{"values":[1,6,12],"labels":false,"title":null}},"y2":{"field":"d"},"color":{"field":"v","type":"quantitative","scale":{"interpolate":"rgb","domain":[0,0.1,0.2,0.25,0.3,0.4,0.5,0.6,0.7,0.8,0.9,1],"range":["#000000","#500196","#7202f3","#8004ff","#8c07f3","#a11096","#b42000","#c63700","#d55700","#e48300","#f2ba00","#ffff00"]},"legend":null}}},
{"width":208,"height":197,"title":{"text":"U/J = 5","anchor":"start","frame":"group","dx":-65,"offset":18,"fontStyle":"italic","fontSize":25},"transform":[{"filter":"datum.p==5"}],"mark":{"type":"rect"},"encoding":{"x":{"field":"a","type":"quantitative","scale":{"domain":[0,1.2],"nice":false},"axis":{"values":[0,0.4,0.8,1.2],"format":".1f","title":"×10⁵","titleX":206,"titleY":47,"titleAlign":"right"}},"x2":{"field":"b"},"y":{"field":"c","type":"quantitative","scale":{"domain":[1,12],"nice":false},"axis":{"values":[1,6,12],"title":"Site"}},"y2":{"field":"d"},"color":{"field":"v","type":"quantitative","scale":{"interpolate":"rgb","domain":[0,0.1,0.2,0.25,0.3,0.4,0.5,0.6,0.7,0.8,0.9,1],"range":["#000000","#500196","#7202f3","#8004ff","#8c07f3","#a11096","#b42000","#c63700","#d55700","#e48300","#f2ba00","#ffff00"]},"legend":null}}},
{"width":208,"height":197,"transform":[{"filter":"datum.p==6"}],"mark":{"type":"rect"},"encoding":{"x":{"field":"a","type":"quantitative","scale":{"domain":[0,1.2],"nice":false},"axis":{"values":[0,0.4,0.8,1.2],"format":".1f","title":"×10⁵","titleX":206,"titleY":47,"titleAlign":"right"}},"x2":{"field":"b"},"y":{"field":"c","type":"quantitative","scale":{"domain":[1,12],"nice":false},"axis":{"values":[1,6,12],"labels":false,"title":null}},"y2":{"field":"d"},"color":{"field":"v","type":"quantitative","scale":{"interpolate":"rgb","domain":[0,0.1,0.2,0.25,0.3,0.4,0.5,0.6,0.7,0.8,0.9,1],"range":["#000000","#500196","#7202f3","#8004ff","#8c07f3","#a11096","#b42000","#c63700","#d55700","#e48300","#f2ba00","#ffff00"]},"legend":null}}},
{"width":208,"height":197,"transform":[{"filter":"datum.p==7"}],"mark":{"type":"rect"},"encoding":{"x":{"field":"a","type":"quantitative","scale":{"domain":[0,8],"nice":false},"axis":{"values":[0,4,8],"format":"d","title":"×10⁴","titleX":206,"titleY":47,"titleAlign":"right"}},"x2":{"field":"b"},"y":{"field":"c","type":"quantitative","scale":{"domain":[1,12],"nice":false},"axis":{"values":[1,6,12],"labels":false,"title":null}},"y2":{"field":"d"},"color":{"field":"v","type":"quantitative","scale":{"interpolate":"rgb","domain":[0,0.1,0.2,0.25,0.3,0.4,0.5,0.6,0.7,0.8,0.9,1],"range":["#000000","#500196","#7202f3","#8004ff","#8c07f3","#a11096","#b42000","#c63700","#d55700","#e48300","#f2ba00","#ffff00"]},"legend":null}}},
{"width":208,"height":197,"transform":[{"filter":"datum.p==8"}],"mark":{"type":"rect"},"encoding":{"x":{"field":"a","type":"quantitative","scale":{"domain":[0,8],"nice":false},"axis":{"values":[0,4,8],"format":"d","title":"×10⁴","titleX":206,"titleY":47,"titleAlign":"right"}},"x2":{"field":"b"},"y":{"field":"c","type":"quantitative","scale":{"domain":[1,12],"nice":false},"axis":{"values":[1,6,12],"labels":false,"title":null}},"y2":{"field":"d"},"color":{"field":"v","type":"quantitative","scale":{"interpolate":"rgb","domain":[0,0.1,0.2,0.25,0.3,0.4,0.5,0.6,0.7,0.8,0.9,1],"range":["#000000","#500196","#7202f3","#8004ff","#8c07f3","#a11096","#b42000","#c63700","#d55700","#e48300","#f2ba00","#ffff00"]},"legend":null}}}
]}],"config":{"view":{"fill":"#000000","stroke":"#444444"},"title":{"font":"Liberation Serif","fontSize":23,"fontWeight":"normal","color":"#111"},"axis":{"grid":false,"domain":false,"tickColor":"#333","tickSize":7,"labelFont":"Liberation Serif","labelFontSize":23,"labelColor":"#111","labelFlush":false,"labelOverlap":false,"labelPadding":10,"titleFont":"Liberation Serif","titleFontSize":24,"titleFontWeight":"normal","titleColor":"#111","titlePadding":16}}}
